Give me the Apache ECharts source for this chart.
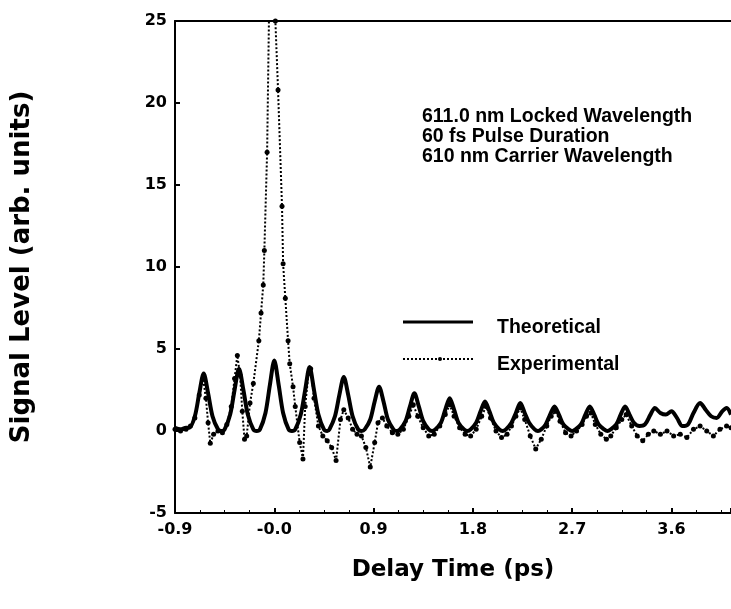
<!DOCTYPE html>
<html>
<head>
<meta charset="UTF-8">
<title>Delay scan</title>
<script src="https://cdn.jsdelivr.net/npm/echarts@6/dist/echarts.min.js"></script>
<style>
body { margin: 0; background: #fff; }
</style>
</head>
<body>
<div id="chart" style="width:731px;height:609px"></div>
<script>
// delay time (ps), signal level
var theoretical = [
  [-0.9,0.2],[-0.85,0.1],[-0.8,0.2],
  [-0.77,0.2],[-0.72,0.9],[-0.68,2.3],[-0.64,3.5],[-0.6,2.3],[-0.56,0.9],[-0.51,0.1],[-0.48,0.0],
  [-0.45,0.1],[-0.40,1.0],[-0.36,2.5],[-0.32,3.8],[-0.28,2.5],[-0.24,1.0],[-0.19,0.1],[-0.16,0.0],
  [-0.13,0.1],[-0.08,1.1],[-0.04,2.8],[0.0,4.3],[0.04,2.8],[0.08,1.1],[0.13,0.1],[0.16,0.0],
  [0.19,0.1],[0.24,1.0],[0.28,2.5],[0.32,3.9],[0.36,2.5],[0.40,1.0],[0.45,0.1],[0.48,0.0],
  [0.50,0.1],[0.55,0.9],[0.59,2.2],[0.63,3.3],[0.67,2.2],[0.71,0.9],[0.76,0.1],[0.79,0.0],
  [0.82,0.1],[0.87,0.7],[0.91,1.8],[0.95,2.7],[0.99,1.8],[1.03,0.7],[1.08,0.1],[1.11,0.0],
  [1.14,0.1],[1.19,0.6],[1.23,1.5],[1.27,2.3],[1.31,1.5],[1.35,0.6],[1.40,0.1],[1.43,0.0],
  [1.46,0.1],[1.51,0.5],[1.55,1.3],[1.59,2.0],[1.63,1.3],[1.67,0.5],[1.72,0.1],[1.75,0.0],
  [1.78,0.1],[1.83,0.5],[1.87,1.2],[1.91,1.8],[1.95,1.2],[1.99,0.5],[2.04,0.1],[2.07,0.0],
  [2.10,0.1],[2.15,0.5],[2.19,1.1],[2.23,1.7],[2.27,1.1],[2.31,0.5],[2.36,0.1],[2.39,0.0],
  [2.42,0.1],[2.46,0.4],[2.50,1.0],[2.54,1.5],[2.58,1.0],[2.62,0.4],[2.67,0.1],[2.70,0.0],
  [2.73,0.1],[2.78,0.4],[2.82,1.0],[2.86,1.5],[2.90,1.0],[2.94,0.4],[2.99,0.1],[3.02,0.0],
  [3.05,0.1],[3.10,0.4],[3.14,1.0],[3.18,1.5],[3.22,1.0],[3.26,0.5],[3.31,0.3],
  [3.36,0.4],[3.41,1.0],[3.45,1.4],[3.50,1.1],[3.55,1.0],[3.60,1.2],[3.65,0.8],[3.70,0.3],
  [3.75,0.4],[3.80,1.1],[3.86,1.7],[3.91,1.3],[3.96,0.9],[4.01,0.8],[4.06,1.2],[4.10,1.4],[4.14,1.0]
];
var experimental = [
  [-0.9,0.1],[-0.85,0.0],[-0.8,0.1],[-0.76,0.3],[-0.72,0.8],[-0.68,2.2],[-0.645,3.2],[-0.62,2.0],
  [-0.6,0.5],[-0.58,-0.75],[-0.55,-0.2],[-0.51,0.0],[-0.47,-0.1],[-0.43,0.4],[-0.39,1.5],[-0.36,3.2],
  [-0.335,4.6],[-0.31,3.4],[-0.29,1.2],[-0.27,-0.5],[-0.25,-0.3],[-0.22,1.7],[-0.19,2.9],[-0.14,5.5],
  [-0.12,7.2],[-0.10,8.9],[-0.09,11],[-0.065,17],[-0.03,34],[0.01,25],[0.034,20.8],[0.07,13.7],
  [0.08,10.2],[0.10,8.1],[0.125,5.5],[0.14,4.1],[0.17,2.7],[0.19,1.5],[0.23,-0.7],[0.26,-1.7],
  [0.28,1.5],[0.31,3.5],[0.33,3.8],[0.36,2.0],[0.40,0.3],[0.44,-0.3],[0.48,-0.6],[0.52,-1.0],
  [0.56,-1.8],[0.60,0.7],[0.63,1.3],[0.67,0.8],[0.71,0.1],[0.75,-0.2],[0.79,-0.3],[0.83,-1.0],
  [0.87,-2.2],[0.91,-0.7],[0.94,0.5],[0.98,0.8],[1.02,0.3],[1.07,-0.1],[1.12,-0.2],[1.17,0.1],
  [1.22,0.9],[1.26,1.6],[1.30,0.9],[1.35,0.2],[1.40,-0.3],[1.45,-0.2],[1.50,0.3],[1.55,1.0],
  [1.59,1.6],[1.63,0.9],[1.68,0.2],[1.73,-0.2],[1.78,-0.3],[1.83,0.1],[1.88,0.9],[1.92,1.5],
  [1.96,0.8],[2.01,0.0],[2.06,-0.4],[2.11,-0.2],[2.15,0.3],[2.19,0.9],[2.23,1.4],[2.27,0.7],
  [2.32,-0.3],[2.37,-1.1],[2.42,-0.5],[2.47,0.3],[2.51,0.9],[2.55,1.2],[2.59,0.6],[2.64,-0.1],
  [2.69,-0.3],[2.74,0.0],[2.79,0.4],[2.83,0.9],[2.87,1.1],[2.91,0.4],[2.96,-0.2],[3.01,-0.5],
  [3.05,-0.3],[3.10,0.2],[3.15,0.7],[3.19,1.0],[3.24,0.3],[3.29,-0.3],[3.34,-0.6],[3.39,-0.2],
  [3.44,0.0],[3.50,-0.2],[3.56,0.0],[3.62,-0.3],[3.68,-0.2],[3.74,-0.4],[3.80,0.1],[3.86,0.3],
  [3.92,0.0],[3.98,-0.3],[4.04,0.1],[4.10,0.3],[4.14,0.2]
];
var xTickLabels = ['-0.9', '-0.0', '0.9', '1.8', '2.7', '3.6'];
var notes = ['611.0 nm Locked Wavelength', '60 fs Pulse Duration', '610 nm Carrier Wavelength'];
var legendNames = ['Theoretical', 'Experimental'];

var myChart = echarts.init(document.getElementById('chart'));
var tickFont = { fontFamily: 'DejaVu Sans', fontWeight: 'bold', fontSize: 16, color: '#000' };
var noteFont = { fontFamily: 'Liberation Sans', fontWeight: 'bold', fontSize: 19.5, fill: '#000' };

var option = {
  animation: false,
  grid: { left: 175, right: 0, top: 21, bottom: 96 },
  graphic: [{
    type: 'text', left: 422, top: 107,
    style: Object.assign({ text: notes.join('\n'), lineHeight: 20 }, noteFont)
  }, {
    // legend: solid sample
    type: 'line', shape: { x1: 403, y1: 322, x2: 473, y2: 322 },
    style: { stroke: '#000', lineWidth: 3 }
  }, {
    type: 'text', left: 497, top: 318,
    style: Object.assign({ text: legendNames[0] }, noteFont)
  }, {
    // legend: dotted sample
    type: 'line', shape: { x1: 403, y1: 359, x2: 473, y2: 359 },
    style: { stroke: '#000', lineWidth: 2, lineDash: [2, 2] }
  }, {
    type: 'circle', shape: { cx: 440, cy: 359, r: 2 },
    style: { fill: '#000' }
  }, {
    type: 'text', left: 497, top: 355,
    style: Object.assign({ text: legendNames[1] }, noteFont)
  }],
  xAxis: [{
    type: 'value', min: -0.9, max: 4.14, interval: 0.9,
    name: 'Delay Time (ps)', nameLocation: 'middle', nameGap: 46,
    nameTextStyle: { fontFamily: 'DejaVu Sans', fontWeight: 'bold', fontSize: 23, color: '#000' },
    axisLine: { onZero: false, lineStyle: { color: '#000', width: 2 } },
    axisTick: { inside: true, length: 5, lineStyle: { color: '#000', width: 2 } },
    minorTick: { show: true, splitNumber: 4, length: 3, lineStyle: { color: '#000' } },
    axisLabel: Object.assign({ margin: 9, showMaxLabel: false, formatter: function (v) {
      return xTickLabels[Math.round((v + 0.9) / 0.9)];
    } }, tickFont),
    splitLine: { show: false }
  }, {
    type: 'value', position: 'top', min: -0.9, max: 4.14,
    axisLine: { onZero: false, lineStyle: { color: '#000', width: 2 } },
    axisTick: { show: false }, axisLabel: { show: false }, splitLine: { show: false }
  }],
  yAxis: {
    type: 'value', min: -5, max: 25, interval: 5,
    name: 'Signal Level (arb. units)', nameLocation: 'middle', nameGap: 140,
    nameTextStyle: { fontFamily: 'DejaVu Sans', fontWeight: 'bold', fontSize: 26, color: '#000' },
    axisLine: { show: true, onZero: false, lineStyle: { color: '#000', width: 2 } },
    axisTick: { show: true, inside: true, length: 5, lineStyle: { color: '#000', width: 2 } },
    axisLabel: Object.assign({ margin: 8 }, tickFont),
    splitLine: { show: false }
  },
  series: [{
    name: 'Theoretical', type: 'line', data: theoretical,
    smooth: 0.3, symbol: 'none',
    lineStyle: { color: '#000', width: 4 },
    itemStyle: { color: '#000' }
  }, {
    name: 'Experimental', type: 'line', data: experimental,
    symbol: 'circle', symbolSize: 5,
    lineStyle: { color: '#000', width: 2, type: [2, 2] },
    itemStyle: { color: '#000' }
  }]
};
myChart.setOption(option);
</script>
</body>
</html>
